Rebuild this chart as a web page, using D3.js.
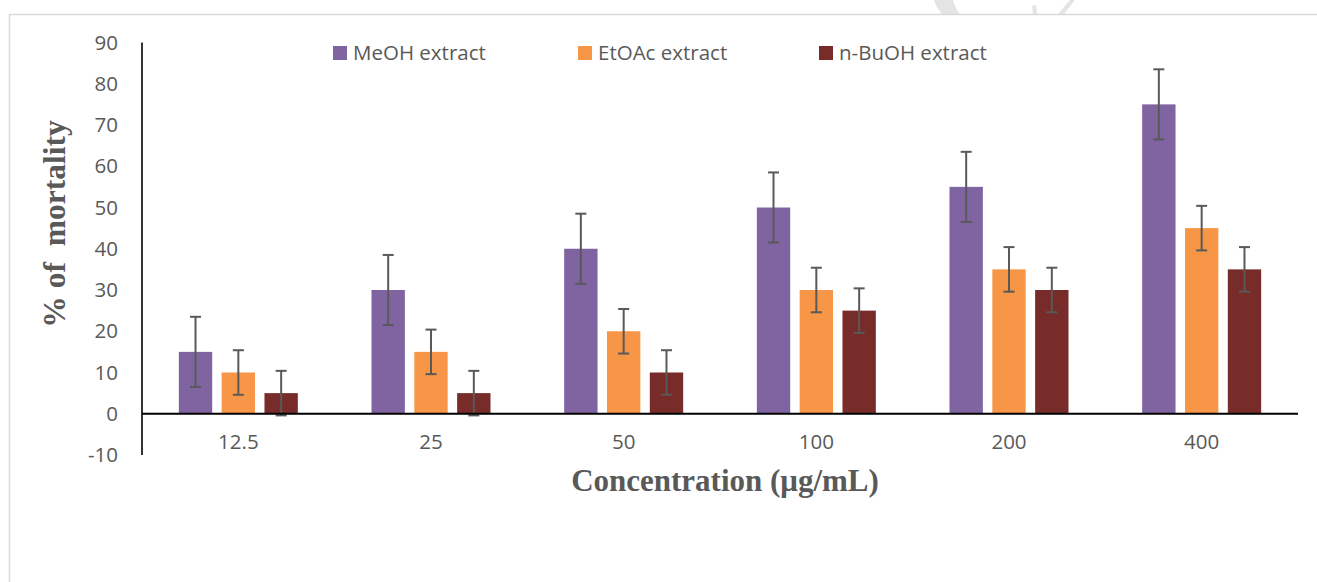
<!DOCTYPE html>
<html>
<head>
<meta charset="utf-8">
<script src="https://cdn.jsdelivr.net/npm/d3@7"></script>
<style>
html,body{margin:0;padding:0;background:#fff;}
svg{display:block;}
</style>
</head>
<body>
<svg id="chart" width="1317" height="582"></svg>
<script>
const categories = ["12.5", "25", "50", "100", "200", "400"];
const seriesNames = ["MeOH extract", "EtOAc extract", "n-BuOH extract"];
const meohValues = [15, 30, 40, 50, 55, 75];
const etoacValues = [10, 15, 20, 30, 35, 45];
const buohValues = [5, 5, 10, 25, 30, 35];
const meohErrors = [8.5, 8.5, 8.5, 8.5, 8.5, 8.5];
const etoacErrors = [5.4, 5.4, 5.4, 5.4, 5.4, 5.4];
const buohErrors = [5.4, 5.4, 5.4, 5.4, 5.4, 5.4];
const yTicks = [-10, 0, 10, 20, 30, 40, 50, 60, 70, 80, 90];
const colors = ["#8064A2", "#F79646", "#772C2A"];

const values = [meohValues, etoacValues, buohValues];
const errors = [meohErrors, etoacErrors, buohErrors];

const svg = d3.select("#chart");

// watermark fragments & frame
const wm = svg.append("g").attr("fill", "#e4e4e4");
wm.append("path").attr("d", "M934,0 L953,0 Q955,8 960,14 L942,14 Q936,7 934,0Z");
wm.append("path").attr("d", "M1032,6 L1036,5 L1037,14 L1033,14Z");
wm.append("path").attr("d", "M1058,14 L1070,0 L1075,0 L1064,14Z");
svg.append("path").attr("d", "M9.5,582 L9.5,14.5 L1317,14.5")
  .attr("fill", "none").attr("stroke", "#d9d9d9").attr("stroke-width", 1.5);

const x0 = d3.scaleBand().domain(categories).range([142, 1298]);
const x1 = d3.scaleBand().domain(seriesNames).range([-59.5, 59.5]).paddingInner(0.221);
const y = d3.scaleLinear().domain([-10, 90]).range([455, 42.5]);

const fontSans = "'Open Sans', sans-serif";
const fontSerif = "'Liberation Serif', 'Times New Roman', serif";
const labelSize = 20.5;

// bars
const groups = svg.append("g").selectAll("g")
  .data(categories).join("g")
  .attr("transform", d => `translate(${x0(d) + x0.bandwidth() / 2},0)`);

seriesNames.forEach((s, si) => {
  groups.append("rect")
    .attr("x", x1(s))
    .attr("width", x1.bandwidth())
    .attr("y", (d, i) => y(Math.max(0, values[si][i])))
    .attr("height", (d, i) => Math.abs(y(values[si][i]) - y(0)))
    .attr("fill", colors[si]);
});

// error bars
seriesNames.forEach((s, si) => {
  const cx = x1(s) + x1.bandwidth() / 2;
  const eb = groups.append("g").attr("stroke", "#595959").attr("stroke-width", 2);
  eb.append("line")
    .attr("x1", cx).attr("x2", cx)
    .attr("y1", (d, i) => y(values[si][i] + errors[si][i]))
    .attr("y2", (d, i) => y(values[si][i] - errors[si][i]));
  [1, -1].forEach(sign => {
    eb.append("line")
      .attr("x1", cx - 5.5).attr("x2", cx + 5.5)
      .attr("y1", (d, i) => y(values[si][i] + sign * errors[si][i]))
      .attr("y2", (d, i) => y(values[si][i] + sign * errors[si][i]));
  });
});

// y axis
const yAxis = d3.axisLeft(y).tickValues(yTicks).tickSize(0).tickPadding(24)
  .tickFormat(d => String(d));
const yg = svg.append("g").attr("transform", "translate(142,0)").call(yAxis);
yg.select(".domain").attr("stroke", "#000").attr("stroke-width", 1.6)
  .attr("d", `M0,${y(90)}V${y(-10)}`);
yg.selectAll("text").attr("font-family", fontSans).attr("font-size", labelSize)
  .attr("fill", "#595959");

// x axis at zero
const xAxis = d3.axisBottom(x0).tickSize(0).tickPadding(21);
const xg = svg.append("g").attr("transform", `translate(0,${y(0)})`).call(xAxis);
xg.select(".domain").attr("stroke", "#000").attr("stroke-width", 2)
  .attr("d", "M142,0H1298");
xg.selectAll("text").attr("font-family", fontSans).attr("font-size", labelSize)
  .attr("fill", "#595959");

// axis titles
svg.append("text")
  .attr("transform", "translate(65,224) rotate(-90)")
  .attr("text-anchor", "middle")
  .attr("xml:space", "preserve")
  .style("white-space", "pre")
  .attr("font-family", fontSerif).attr("font-weight", "bold").attr("font-size", 31.5)
  .attr("fill", "#595959")
  .text("% of  mortality");

svg.append("text")
  .attr("x", 725).attr("y", 491)
  .attr("text-anchor", "middle")
  .attr("font-family", fontSerif).attr("font-weight", "bold").attr("font-size", 31)
  .attr("fill", "#595959")
  .text("Concentration (μg/mL)");

// legend
const legendX = [333, 578, 819];
const lg = svg.append("g").selectAll("g").data(seriesNames).join("g")
  .attr("transform", (d, i) => `translate(${legendX[i]},46)`);
lg.append("rect").attr("width", 14).attr("height", 14).attr("fill", (d, i) => colors[i]);
lg.append("text").attr("x", 20).attr("y", 14)
  .attr("font-family", fontSans).attr("font-size", labelSize).attr("fill", "#595959")
  .text(d => d);
</script>
</body>
</html>
